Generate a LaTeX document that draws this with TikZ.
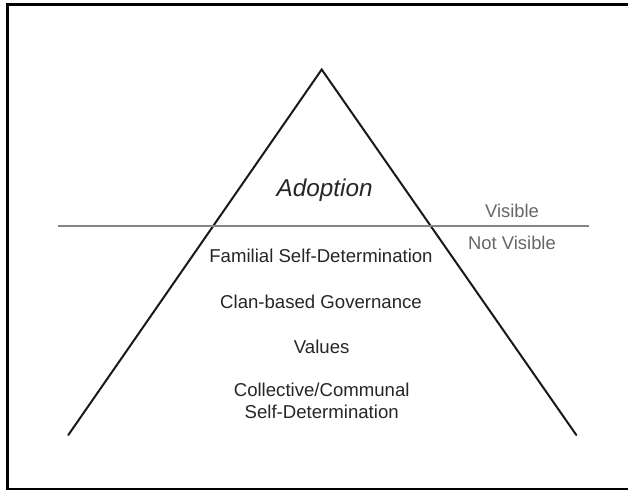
\documentclass[tikz,border=0pt]{standalone}
\usepackage{fontspec}
\setmainfont{Liberation Sans}
\begin{document}
\begin{tikzpicture}[x=1pt,y=-1pt,
  layer/.style={text=black!85, font=\fontsize{18.6}{21.7}\selectfont, align=center, inner sep=0pt},
  side/.style={text=black!60, font=\fontsize{18.4}{21.7}\selectfont, inner sep=0pt},
  edge/.style={line width=2pt, black!90, line cap=round},
  waterline/.style={line width=2pt, black!48}]
  \useasboundingbox (0,0) rectangle (628,490);
  \fill[white] (0,0) rectangle (628,490);
  % frame
  \draw[line width=3pt] (628,4.8) -- (7.5,4.8) -- (7.5,490);
  \draw[line width=2pt] (6,489) -- (628,489);

  % iceberg outline
  \coordinate (apex) at (321.7,69.5);
  \coordinate (bl) at (68.3,435);
  \coordinate (br) at (576.3,435);
  \draw[edge, line join=miter] (bl) -- (apex) -- (br);

  % surface line
  \coordinate (wl) at (58,225.5);
  \coordinate (wr) at (589,225.5);
  \draw[waterline] (wl) -- (wr);

  % labels
  \node[layer, font=\fontsize{24.3}{28}\selectfont\itshape] (adopt) at (324.7,190) {Adoption};
  \node[side] (vis) at (512,210.5) {Visible};
  \node[side] (nvis) at (512,242.5) {Not Visible};
  \node[layer] (fam) at (321,256) {Familial Self-Determination};
  \node[layer] (clan) at (321,302) {Clan-based Governance};
  \node[layer] (val) at (321.7,347) {Values};
  \node[layer] (coll) at (321.7,401) {Collective/Communal\\Self-Determination};
\end{tikzpicture}
\end{document}
